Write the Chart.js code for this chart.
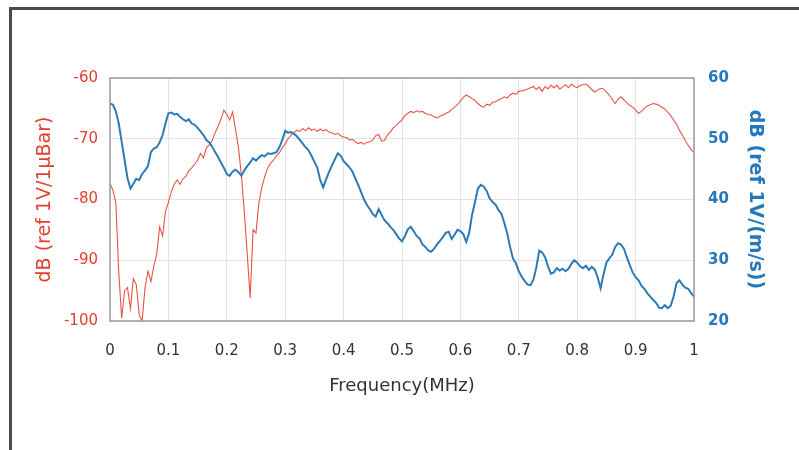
<!DOCTYPE html>
<html>
<head>
<meta charset="utf-8">
<script src="https://cdn.jsdelivr.net/npm/chart.js@4.4.0/dist/chart.umd.min.js"></script>
<style>
  html, body { margin: 0; padding: 0; background: #fff; overflow: hidden; }
  #frame { position: absolute; left: 9px; top: 7px; width: 820px; height: 480px;
           border-left: 3px solid #4a4a4a; border-top: 3px solid #4a4a4a; }
  #wrap { position: absolute; left: 0; top: 0; width: 799px; height: 450px; }
</style>
</head>
<body>
<div id="frame"></div>
<div id="wrap"><canvas id="chart" width="799" height="450"></canvas></div>
<script>
// Frequency samples (MHz)
const freqMHz = [
  0.000, 0.005, 0.010, 0.015, 0.020, 0.025, 0.030, 0.035, 0.040, 0.045,
  0.050, 0.055, 0.060, 0.065, 0.070, 0.075, 0.080, 0.085, 0.090, 0.095,
  0.100, 0.105, 0.110, 0.115, 0.120, 0.125, 0.130, 0.135, 0.140, 0.145,
  0.150, 0.155, 0.160, 0.165, 0.170, 0.175, 0.180, 0.185, 0.190, 0.195,
  0.200, 0.205, 0.210, 0.215, 0.220, 0.225, 0.230, 0.235, 0.240, 0.245,
  0.250, 0.255, 0.260, 0.265, 0.270, 0.275, 0.280, 0.285, 0.290, 0.295,
  0.300, 0.305, 0.310, 0.315, 0.320, 0.325, 0.330, 0.335, 0.340, 0.345,
  0.350, 0.355, 0.360, 0.365, 0.370, 0.375, 0.380, 0.385, 0.390, 0.395,
  0.400, 0.405, 0.410, 0.415, 0.420, 0.425, 0.430, 0.435, 0.440, 0.445,
  0.450, 0.455, 0.460, 0.465, 0.470, 0.475, 0.480, 0.485, 0.490, 0.495,
  0.500, 0.505, 0.510, 0.515, 0.520, 0.525, 0.530, 0.535, 0.540, 0.545,
  0.550, 0.555, 0.560, 0.565, 0.570, 0.575, 0.580, 0.585, 0.590, 0.595,
  0.600, 0.605, 0.610, 0.615, 0.620, 0.625, 0.630, 0.635, 0.640, 0.645,
  0.650, 0.655, 0.660, 0.665, 0.670, 0.675, 0.680, 0.685, 0.690, 0.695,
  0.700, 0.705, 0.710, 0.715, 0.720, 0.725, 0.730, 0.735, 0.740, 0.745,
  0.750, 0.755, 0.760, 0.765, 0.770, 0.775, 0.780, 0.785, 0.790, 0.795,
  0.800, 0.805, 0.810, 0.815, 0.820, 0.825, 0.830, 0.835, 0.840, 0.845,
  0.850, 0.855, 0.860, 0.865, 0.870, 0.875, 0.880, 0.885, 0.890, 0.895,
  0.900, 0.905, 0.910, 0.915, 0.920, 0.925, 0.930, 0.935, 0.940, 0.945,
  0.950, 0.955, 0.960, 0.965, 0.970, 0.975, 0.980, 0.985, 0.990, 0.995,
  1.000
];

// Pressure response, dB (ref 1V/1µBar) - left axis
const pressureDb = [
  -77.3, -78.5, -80.5, -92.0, -99.5, -95.0, -94.5, -98.0, -93.0, -94.0,
  -99.0, -100.0, -94.5, -91.8, -93.5, -91.0, -89.0, -84.5, -86.0, -82.0,
  -80.5, -78.7, -77.5, -76.8, -77.5, -76.6, -76.2, -75.3, -74.8, -74.2,
  -73.5, -72.4, -73.2, -71.5, -71.0, -70.3, -69.0, -68.0, -66.8, -65.3,
  -66.0, -66.9, -65.6, -68.5, -71.5, -76.0, -82.0, -89.0, -96.2, -85.0,
  -85.5, -80.5, -78.0, -76.2, -74.8, -74.0, -73.5, -72.8, -72.3, -71.5,
  -70.8, -70.0, -69.4, -69.0, -68.6, -68.8, -68.3, -68.7, -68.2, -68.6,
  -68.4, -68.8, -68.4, -68.7, -68.5, -68.9, -69.0, -69.3, -69.1, -69.5,
  -69.7, -69.8, -70.2, -70.1, -70.5, -70.8, -70.6, -70.9, -70.6, -70.5,
  -70.2, -69.5, -69.3, -70.4, -70.3, -69.4, -68.9, -68.2, -67.8, -67.3,
  -66.9, -66.2, -65.8, -65.5, -65.7, -65.4, -65.6, -65.5, -65.8, -66.0,
  -66.1, -66.4, -66.6, -66.3, -66.1, -65.8, -65.6, -65.2, -64.8, -64.4,
  -63.8, -63.2, -62.8, -63.1, -63.4, -63.7, -64.2, -64.6, -64.8, -64.3,
  -64.5, -64.0, -63.9, -63.6, -63.4, -63.1, -63.3, -62.8, -62.5, -62.7,
  -62.2, -62.1, -62.0, -61.8, -61.6, -61.4, -61.9, -61.5, -62.2, -61.4,
  -61.8, -61.2, -61.6, -61.2, -61.8, -61.5, -61.1, -61.6, -61.0, -61.4,
  -61.6, -61.2, -61.1, -61.0, -61.4, -61.9, -62.3, -62.0, -61.7, -61.8,
  -62.3, -62.8, -63.5, -64.2, -63.5, -63.1, -63.6, -64.1, -64.5, -64.8,
  -65.3, -65.8, -65.5, -65.0, -64.6, -64.4, -64.2, -64.3, -64.5, -64.8,
  -65.1, -65.6, -66.2, -66.9, -67.6, -68.6, -69.4, -70.3, -71.1, -71.8,
  -72.3
];

// Velocity response, dB (ref 1V/(m/s)) - right axis
const velocityDb = [
  55.8, 55.6, 54.5, 52.5, 49.5, 46.5, 43.5, 41.8, 42.6, 43.4,
  43.2, 44.2, 44.8, 45.5, 47.8, 48.4, 48.6, 49.4, 50.6, 52.5,
  54.2, 54.3, 54.0, 54.1, 53.6, 53.2, 52.9, 53.2, 52.5, 52.3,
  51.8, 51.2, 50.6, 49.8, 49.4, 48.7, 47.8, 47.0, 46.1, 45.2,
  44.2, 43.9, 44.6, 44.9, 44.5, 43.9, 44.8, 45.5, 46.1, 46.8,
  46.4, 46.9, 47.3, 47.1, 47.6, 47.5, 47.6, 47.8, 48.6, 49.8,
  51.3, 51.0, 51.1, 50.8, 50.4, 49.8, 49.2, 48.6, 48.1, 47.2,
  46.2, 45.2, 43.2, 42.0, 43.3, 44.5, 45.6, 46.6, 47.6, 47.2,
  46.3, 45.8, 45.3, 44.6, 43.5, 42.4, 41.2, 40.0, 39.1, 38.4,
  37.6, 37.2, 38.4, 37.5, 36.6, 36.1, 35.5, 35.0, 34.3, 33.6,
  33.1, 34.0, 35.1, 35.5, 34.8, 34.0, 33.6, 32.6, 32.2, 31.6,
  31.4, 31.9, 32.6, 33.2, 33.8, 34.5, 34.7, 33.5, 34.2, 35.0,
  34.8, 34.3, 33.0, 34.5, 37.5, 39.6, 41.8, 42.4, 42.1, 41.4,
  40.2, 39.6, 39.2, 38.3, 37.7, 36.2, 34.5, 32.2, 30.3, 29.5,
  28.2, 27.3, 26.6, 26.0, 25.9, 26.8, 28.8, 31.6, 31.3, 30.5,
  29.0, 27.8, 28.0, 28.7, 28.3, 28.6, 28.2, 28.6, 29.4, 30.0,
  29.6, 29.0, 28.7, 29.1, 28.4, 28.9, 28.5, 27.2, 25.4, 27.6,
  29.6, 30.3, 30.9, 32.2, 32.8, 32.6, 31.9, 30.5, 29.2, 28.0,
  27.2, 26.7, 25.8, 25.3, 24.6, 24.0, 23.5, 23.0, 22.2, 22.1,
  22.6, 22.1, 22.5, 24.0, 26.2, 26.7, 26.0, 25.5, 25.3, 24.6,
  24.0
];

const leftTicks = { min: -100, max: -60, step: 10 };
const rightTicks = { min: 20, max: 60, step: 10 };
const xTicks = { min: 0, max: 1, step: 0.1 };

const RED = '#e8524a';
const RED_TEXT = '#e2402f';
const BLUE = '#2b7bb8';
const BLUE_TEXT = '#2678bd';

// outline round the plot area
const areaBorder = {
  id: 'areaBorder',
  afterDatasetsDraw(chart) {
    const { ctx, chartArea: a } = chart;
    ctx.save();
    ctx.strokeStyle = '#9a9a9a';
    ctx.lineWidth = 1.5;
    ctx.strokeRect(a.left, a.top, a.right - a.left, a.bottom - a.top);
    ctx.restore();
  }
};

const toPoints = (ys) => freqMHz.map((f, i) => ({ x: f, y: ys[i] }));

new Chart(document.getElementById('chart'), {
  type: 'line',
  data: {
    datasets: [
      {
        label: 'Velocity',
        data: toPoints(velocityDb),
        yAxisID: 'yRight',
        borderColor: BLUE,
        borderWidth: 2,
        pointRadius: 0,
        tension: 0
      },
      {
        label: 'Pressure',
        data: toPoints(pressureDb),
        yAxisID: 'yLeft',
        borderColor: RED,
        borderWidth: 1.1,
        pointRadius: 0,
        tension: 0
      }
    ]
  },
  options: {
    responsive: false,
    animation: false,
    layout: { padding: { left: 30, right: 29, top: 78, bottom: 49 } },
    plugins: { legend: { display: false }, tooltip: { enabled: false } },
    scales: {
      x: {
        type: 'linear',
        min: xTicks.min,
        max: xTicks.max,
        afterFit(s) { s.height = 80; },
        ticks: { stepSize: xTicks.step, padding: 21, color: '#333',
                 font: { family: 'DejaVu Sans', size: 15 },
                 callback: (v) => String(Number(v.toFixed(1))) },
        grid: { color: '#e2e2e2', drawTicks: false },
        border: { display: false },
        title: { display: true, text: 'Frequency(MHz)', color: '#333',
                 font: { family: 'DejaVu Sans', size: 18 } }
      },
      yLeft: {
        position: 'left',
        min: leftTicks.min,
        max: leftTicks.max,
        afterFit(s) { s.width = 80; },
        ticks: { stepSize: leftTicks.step, padding: 12, color: RED_TEXT,
                 font: { family: 'DejaVu Sans', size: 15 } },
        grid: { color: '#e2e2e2', drawTicks: false },
        border: { display: false },
        title: { display: true, text: 'dB (ref 1V/1µBar)', color: RED_TEXT,
                 font: { family: 'DejaVu Sans', size: 19 } }
      },
      yRight: {
        position: 'right',
        min: rightTicks.min,
        max: rightTicks.max,
        afterFit(s) { s.width = 76; },
        ticks: { stepSize: rightTicks.step, padding: 14, color: BLUE_TEXT,
                 font: { family: 'DejaVu Sans', size: 15, weight: 'bold' } },
        grid: { drawOnChartArea: false, drawTicks: false },
        border: { display: false },
        title: { display: true, text: 'dB (ref 1V/(m/s))', color: BLUE_TEXT,
                 font: { family: 'DejaVu Sans', size: 19, weight: 'bold' } }
      }
    }
  },
  plugins: [areaBorder]
});
</script>
</body>
</html>
